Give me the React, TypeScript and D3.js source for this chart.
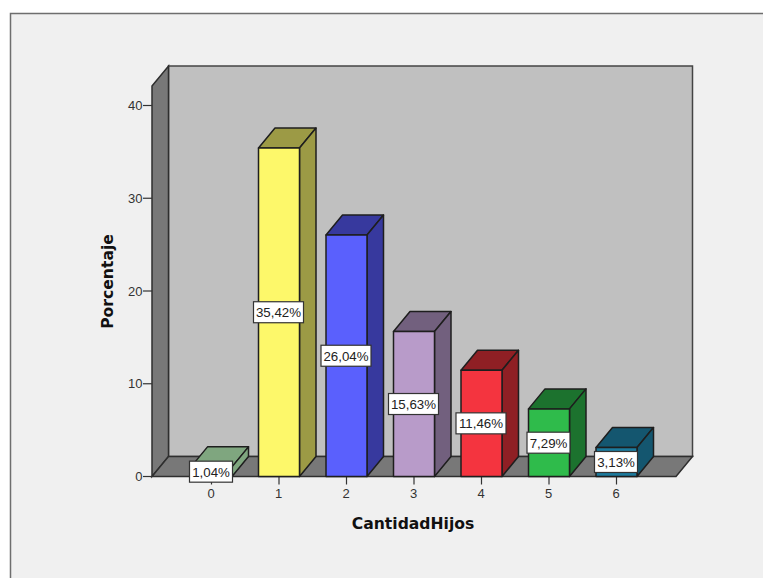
import React from "react";
import * as d3 from "d3";

const categories = ["0", "1", "2", "3", "4", "5", "6"];
const percentages = [1.04, 35.42, 26.04, 15.63, 11.46, 7.29, 3.13];
const labels = ["1,04%", "35,42%", "26,04%", "15,63%", "11,46%", "7,29%", "3,13%"];
const frontColors = ["#7fa67f", "#fdf86a", "#5a60fd", "#b89bc9", "#f4343f", "#2fbb4b", "#1c7a9c"];
const sideColors = ["#7fa67f", "#9c9a45", "#37399e", "#72607e", "#8f1f24", "#1c722e", "#14566f"];
const yTicks = [0, 10, 20, 30, 40];

const W = 763, H = 578;
const dx = 16.5, dy = -20;
const barW = 41;
const y = d3.scaleLinear().domain([0, 40]).range([476.5, 105.5]);
const x = d3.scalePoint<string>().domain(categories).range([211, 616]);
const FL = 152, FR = 676, B = y(0), TOP = 86;
const font = "'Liberation Sans', Arial, sans-serif";
const titleFont = "'DejaVu Sans', Verdana, sans-serif";
const poly = (pts: [number, number][]) => d3.line()(pts)! + "Z";

export default function App() {
  return (
    <svg width={W} height={H} style={{ position: "absolute", left: 0, top: 0, display: "block" }} fontFamily={font}>
      <rect x={0} y={0} width={W} height={H} fill="#fff" />
      <rect x={10.5} y={13.5} width={W + 20} height={H + 20} fill="#f0f0f0" stroke="#6e6e6e" strokeWidth={1.5} />
      {/* walls */}
      <path d={poly([[FL + dx, TOP + dy], [FR + dx, TOP + dy], [FR + dx, B + dy], [FL + dx, B + dy]])} fill="#c0c0c0" stroke="#444" strokeWidth={1.5} />
      <path d={poly([[FL, TOP], [FL + dx, TOP + dy], [FL + dx, B + dy], [FL, B]])} fill="#787878" stroke="#2e2e2e" strokeWidth={1.5} />
      <path d={poly([[FL, B], [FL + dx, B + dy], [FR + dx, B + dy], [FR, B]])} fill="#787878" stroke="#2e2e2e" strokeWidth={1.5} />
      {/* y axis */}
      {yTicks.map((t) => (
        <g key={t}>
          <line x1={FL - 9} x2={FL} y1={y(t)} y2={y(t)} stroke="#333" strokeWidth={1.2} />
          <text x={FL - 9.5} y={y(t) + 4.5} fontSize={13} textAnchor="end" fill="#333">{t}</text>
        </g>
      ))}
      {/* x axis */}
      {categories.map((c) => (
        <g key={c}>
          <line x1={x(c)! + 0.5} x2={x(c)! + 0.5} y1={B} y2={B + 8} stroke="#333" strokeWidth={1.2} />
          <text x={x(c)!} y={B + 21} fontSize={13} textAnchor="middle" fill="#333">{c}</text>
        </g>
      ))}
      {/* bars */}
      {categories.map((c, i) => {
        const l = x(c)! - barW / 2 + 0.5, r = l + barW, t = y(percentages[i]);
        return (
          <g key={c} stroke="#1e1e1e" strokeWidth={1.5} strokeLinejoin="round">
            <path d={poly([[l, t], [l + dx, t + dy], [r + dx, t + dy], [r, t]])} fill={sideColors[i]} />
            <path d={poly([[r, t], [r + dx, t + dy], [r + dx, B + dy], [r, B]])} fill={sideColors[i]} />
            <rect x={l} y={t} width={barW} height={B - t} fill={frontColors[i]} />
          </g>
        );
      })}
      {/* value labels */}
      {categories.map((c, i) => {
        const w = labels[i].length === 6 ? 50 : 43;
        const my = (y(percentages[i]) + B) / 2;
        return (
          <g key={c}>
            <rect x={x(c)! - w / 2} y={my - 10.5} width={w} height={21} fill="#fff" stroke="#333" strokeWidth={1.2} />
            <text x={x(c)!} y={my + 5} fontSize={13.3} textAnchor="middle" fill="#222">{labels[i]}</text>
          </g>
        );
      })}
      {/* titles */}
      <text x={413} y={529} fontSize={15.6} fontWeight={700} textAnchor="middle" fill="#111">
        <tspan fontFamily={titleFont}>CantidadHijos</tspan>
      </text>
      <text transform={`translate(112.5,281.5) rotate(-90)`} fontSize={15.6} fontWeight={700} textAnchor="middle" fill="#111">
        <tspan fontFamily={titleFont}>Porcentaje</tspan>
      </text>
    </svg>
  );
}
